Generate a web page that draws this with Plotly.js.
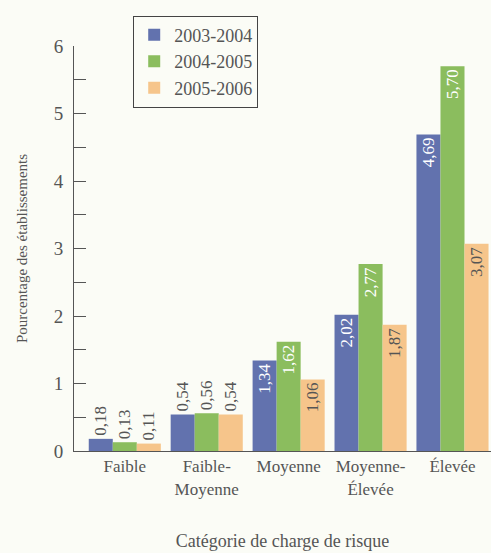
<!DOCTYPE html>
<html>
<head>
<meta charset="utf-8">
<script src="https://cdn.plot.ly/plotly-3.0.1.min.js"></script>
<style>html,body{margin:0;padding:0;background:#fbfcf6;}#chart{width:491px;height:553px;}</style>
</head>
<body>
<div id="chart"></div>
<script>
const categories = ["Faible", "Faible-<br>Moyenne", "Moyenne", "Moyenne-<br>Élevée", "Élevée"];
const seriesNames = ["2003-2004", "2004-2005", "2005-2006"];
const values2003 = [0.18, 0.54, 1.34, 2.02, 4.69];
const values2004 = [0.13, 0.56, 1.62, 2.77, 5.70];
const values2005 = [0.11, 0.54, 1.06, 1.87, 3.07];
const yTicks = [0, 1, 2, 3, 4, 5, 6];

const colors = ["#6272ae", "#8bbd5e", "#f6c58b"];
const insideColors = ["#ffffff", "#ffffff", "#555555"];
const fontFam = "Liberation Serif, DejaVu Serif, serif";
const gray = "#555555";

function mkTrace(vals, i) {
  const pos = vals.map(v => v < 0.8 ? "outside" : "inside");
  const tcol = vals.map(v => v < 0.8 ? gray : insideColors[i]);
  return {
    type: "bar",
    x: categories,
    y: vals,
    name: seriesNames[i],
    marker: {color: colors[i]},
    texttemplate: "%{y:.2f}",
    textposition: pos,
    textangle: -90,
    insidetextanchor: "end",
    constraintext: "none",
    textfont: {family: fontFam, size: 17, color: tcol},
    outsidetextfont: {family: fontFam, size: 17, color: gray},
    insidetextfont: {family: fontFam, size: 17, color: insideColors[i]},
    cliponaxis: false,
    hoverinfo: "none"
  };
}

const data = [mkTrace(values2003, 0), mkTrace(values2004, 1), mkTrace(values2005, 2)];

const layout = {
  width: 491, height: 553,
  separators: ", ",
  paper_bgcolor: "#fbfcf6",
  plot_bgcolor: "#fbfcf6",
  margin: {l: 74, r: 0, t: 46, b: 102},
  barmode: "group",
  bargap: 0.12,
  bargroupgap: 0,
  font: {family: fontFam, color: gray, size: 14},
  showlegend: true,
  legend: {
    x: 0.142, y: 1.075, xanchor: "left", yanchor: "top",
    bordercolor: "#444", borderwidth: 1, bgcolor: "rgba(0,0,0,0)",
    font: {family: fontFam, size: 18, color: gray},
    tracegroupgap: 0, itemwidth: 30
  },
  xaxis: {
    type: "category",
    range: [-0.62, 4.47],
    showline: true, linecolor: "#555", linewidth: 1,
    ticks: "", showgrid: false, zeroline: false,
    tickfont: {family: fontFam, size: 17, color: gray},
    title: {text: "Catégorie de charge de risque", font: {family: fontFam, size: 18, color: gray}, standoff: 36}
  },
  yaxis: {
    range: [0, 6],
    tickvals: yTicks,
    ticktext: yTicks.map(String),
    ticks: "inside", ticklen: 12, tickcolor: "#555", tickwidth: 1,
    ticklabelstandoff: 6,
    minor: {dtick: 0.5, ticks: "inside", ticklen: 12, tickcolor: "#555", tickwidth: 1, showgrid: false},
    showline: true, linecolor: "#555", linewidth: 1,
    showgrid: false, zeroline: false,
    tickfont: {family: fontFam, size: 19, color: gray},
    title: {text: "Pourcentage des établissements", font: {family: fontFam, size: 15, color: gray}, standoff: 22}
  }
};

Plotly.newPlot("chart", data, layout, {displayModeBar: false, staticPlot: true});
</script>
</body>
</html>
